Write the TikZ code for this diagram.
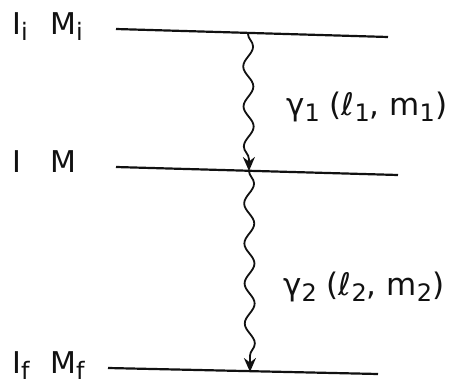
\documentclass[tikz,border=0pt]{standalone}
\usepackage{fontspec}
\setmainfont{DejaVu Sans}
\usepackage{xcolor}
\usepackage{tikz}
\usetikzlibrary{arrows.meta,decorations.pathmorphing}
\definecolor{inkblack}{HTML}{111111}
\newcommand{\lowsub}[1]{\raisebox{-6pt}{\fontsize{24}{24}\selectfont #1}}
\tikzset{
  level/.style={draw=inkblack,line width=2.2pt},
  photon/.style={draw=inkblack,line width=1.8pt,decorate,
    decoration={snake,amplitude=5pt,segment length=40pt,post length=12pt},
    -{Stealth[length=14pt,width=12pt]}},
  statelabel/.style={anchor=base west,inner sep=0pt,text=inkblack,
    font=\fontsize{30}{34}\selectfont},
  gammalabel/.style={anchor=base west,inner sep=0pt,text=inkblack,
    font=\fontsize{31}{34}\selectfont}
}

\begin{document}
\begin{tikzpicture}[x=1pt,y=-1pt]
  \useasboundingbox (0,0) rectangle (476,385);
  \coordinate (iL) at (116,29);
  \coordinate (iR) at (388,37);
  \coordinate (mL) at (116,167);
  \coordinate (mR) at (398,175);
  \coordinate (fL) at (108,368);
  \coordinate (fR) at (378,374);
  \coordinate (g1a) at (248,34);
  \coordinate (g1b) at (249,171);
  \coordinate (g2b) at (250,372);
  \draw[level] (iL) -- (iR);
  \draw[level] (mL) -- (mR);
  \draw[level] (fL) -- (fR);
  \node[statelabel] (Ii) at (12,35) {I\lowsub{i}};
  \node[statelabel] (Mi) at (50,35) {M\lowsub{i}};
  \node[statelabel] (Im) at (12,172) {I};
  \node[statelabel] (Mm) at (50,172) {M};
  \node[statelabel] (If) at (12,373) {I\lowsub{f}};
  \node[statelabel] (Mf) at (50,373) {M\lowsub{f}};
  \draw[photon] (g1a) -- (g1b);
  \draw[photon] (g1b) -- (g2b);
  \node[gammalabel] (gam1) at (286,115) {γ\lowsub{1} (ℓ\lowsub{1}, m\lowsub{1})};
  \node[gammalabel] (gam2) at (283,295) {γ\lowsub{2} (ℓ\lowsub{2}, m\lowsub{2})};
\end{tikzpicture}
\end{document}
